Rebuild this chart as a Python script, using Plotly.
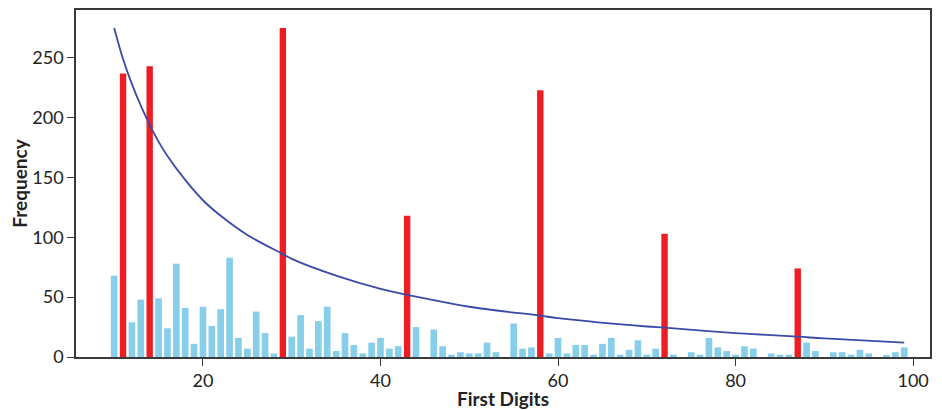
import plotly.graph_objects as go

# Blue bars (first digits 10..99, non-highlighted)
blue_digits = [10, 12, 13, 15, 16, 17, 18, 19, 20, 21, 22, 23, 24, 25, 26, 27, 28,
               30, 31, 32, 33, 34, 35, 36, 37, 38, 39, 40, 41, 42, 44, 45, 46, 47, 48,
               49, 50, 51, 52, 53, 54, 55, 56, 57, 59, 60, 61, 62, 63, 64, 65, 66, 67,
               68, 69, 70, 71, 73, 74, 75, 76, 77, 78, 79, 80, 81, 82, 83, 84, 85, 86,
               88, 89, 90, 91, 92, 93, 94, 95, 96, 97, 98, 99]
blue_freq = [68, 29, 48, 49, 24, 78, 41, 11, 42, 26, 40, 83, 16, 7, 38, 20, 3,
             17, 35, 7, 30, 42, 5, 20, 10, 3, 12, 16, 7, 9, 25, 0, 23, 9, 2,
             4, 3, 3, 12, 4, 0, 28, 7, 8, 3, 16, 3, 10, 10, 2, 11, 16, 2,
             6, 14, 2, 7, 2, 0, 4, 2, 16, 8, 5, 2, 9, 7, 0, 3, 2, 2,
             12, 5, 0, 4, 4, 2, 6, 3, 0, 1, 4, 8]

# Red highlighted bars
red_digits = [11, 14, 29, 43, 58, 72, 87]
red_freq = [237, 243, 275, 118, 223, 103, 74]

# Expected-frequency curve
curve_digits = [10, 11, 12, 13, 14, 15, 16, 18, 20, 22, 25, 29, 30, 35, 40, 43,
                45, 50, 58, 60, 70, 72, 80, 87, 90, 99]
curve_freq = [275, 249, 228, 210, 194, 180, 168, 148, 131, 118, 102, 86, 82, 68,
              57, 52, 49, 42, 34.5, 32.5, 25.5, 24.5, 20, 17, 15.5, 12]

x_ticks = [20, 40, 60, 80, 100]
y_ticks = [0, 50, 100, 150, 200, 250]

FONT = "Lato"
AXIS_COLOR = "#3a3a3a"

fig = go.Figure()
fig.add_trace(go.Bar(x=blue_digits, y=blue_freq, width=0.75,
                     marker=dict(color="#87CEEB", line=dict(width=0)),
                     showlegend=False))
fig.add_trace(go.Bar(x=red_digits, y=red_freq, width=0.72,
                     marker=dict(color="#EE1D23", line=dict(width=0)),
                     showlegend=False))
fig.add_trace(go.Scatter(x=curve_digits, y=curve_freq, mode="lines",
                         line=dict(color="#3A4AA6", width=1.8, shape="spline"),
                         showlegend=False))

# page body has an 8px margin, so the figure is sized to fit the window
fig.update_layout(
    width=934, height=402,
    margin=dict(l=68, r=12, t=2, b=53, autoexpand=False),
    paper_bgcolor="white", plot_bgcolor="white",
    barmode="overlay",
    font=dict(family=FONT, size=18, color="#222222"),
)
fig.update_xaxes(
    range=[5.7, 101.9], tickvals=x_ticks, ticks="outside", ticklen=7,
    tickcolor=AXIS_COLOR, showline=True, linecolor=AXIS_COLOR, linewidth=1.5,
    mirror=True, showgrid=False, zeroline=False, automargin=False,
    tickfont=dict(family=FONT, size=18),
    title=dict(text="First Digits", font=dict(family=FONT, size=19, weight="bold"),
               standoff=2),
)
fig.update_yaxes(
    range=[0, 290], tickvals=y_ticks, ticks="outside", ticklen=7,
    tickcolor=AXIS_COLOR, showline=True, linecolor=AXIS_COLOR, linewidth=1.5,
    mirror=True, showgrid=False, zeroline=False, automargin=False,
    tickfont=dict(family=FONT, size=18),
    title=dict(text="Frequency", font=dict(family=FONT, size=19, weight="bold"),
               standoff=4),
)

fig.write_html("out.html")
